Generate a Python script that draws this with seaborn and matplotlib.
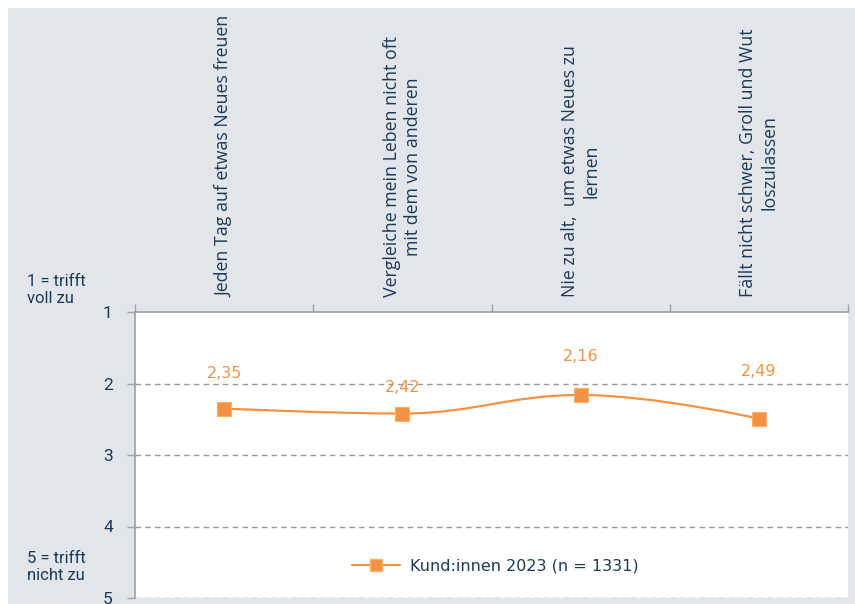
import numpy as np
import pandas as pd
import matplotlib
matplotlib.use("Agg")
import matplotlib.pyplot as plt
from matplotlib.path import Path
from matplotlib.patches import PathPatch, Rectangle
from matplotlib.lines import Line2D
import seaborn as sns

# ---- data ----
categories = [
    "Jeden Tag auf etwas Neues freuen",
    "Vergleiche mein Leben nicht oft\nmit dem von anderen",
    "Nie zu alt,  um etwas Neues zu\nlernen",
    "Fällt nicht schwer, Groll und Wut\nloszulassen",
]
values = [2.35, 2.42, 2.16, 2.49]
value_labels = ["2,35", "2,42", "2,16", "2,49"]
series_name = "Kund:innen 2023 (n = 1331)"
y_ticks = [1, 2, 3, 4, 5]
top_note = "1 = trifft\nvoll zu"
bottom_note = "5 = trifft\nnicht zu"

# ---- style ----
ORANGE = "#f39244"
NAVY = "#1b3a5a"
BG = "#e2e5e9"
GRID = "#9a9a9a"
label_offsets_px = [35, 26, 38, 47]

sns.set_theme(style="white")
plt.rcParams["font.family"] = ["DejaVu Sans"]

fig = plt.figure(figsize=(8.55, 6.04), dpi=100, facecolor="white")
fig.patches.append(Rectangle((8 / 855, 0), 1 - 8 / 855, 1 - 8 / 604,
                             transform=fig.transFigure, facecolor=BG,
                             edgecolor="none", zorder=-10))
ax = fig.add_axes([135 / 855, 6 / 604, (848 - 135) / 855, (598 - 312) / 604])
ax.set_facecolor("white")

df = pd.DataFrame({"x": np.arange(len(values)), "y": values})

# Highcharts-like spline through the points
xs = df["x"].to_numpy(dtype=float)
ys = df["y"].to_numpy(dtype=float)
sm = 1.5
den = sm + 1
n = len(xs)
lc = [(xs[i], ys[i]) for i in range(n)]
rc = [(xs[i], ys[i]) for i in range(n)]
for i in range(1, n - 1):
    lx = (sm * xs[i] + xs[i - 1]) / den
    ly = (sm * ys[i] + ys[i - 1]) / den
    rx = (sm * xs[i] + xs[i + 1]) / den
    ry = (sm * ys[i] + ys[i + 1]) / den
    corr = (ry - ly) * (rx - xs[i]) / (rx - lx) + ys[i] - ry
    ly += corr
    ry += corr
    if ly > ys[i - 1] and ly > ys[i]:
        ly = max(ys[i - 1], ys[i]); ry = 2 * ys[i] - ly
    elif ly < ys[i - 1] and ly < ys[i]:
        ly = min(ys[i - 1], ys[i]); ry = 2 * ys[i] - ly
    if ry > ys[i + 1] and ry > ys[i]:
        ry = max(ys[i + 1], ys[i]); ly = 2 * ys[i] - ry
    elif ry < ys[i + 1] and ry < ys[i]:
        ry = min(ys[i + 1], ys[i]); ly = 2 * ys[i] - ry
    lc[i] = (lx, ly)
    rc[i] = (rx, ry)
verts = [(xs[0], ys[0])]
codes = [Path.MOVETO]
for i in range(1, n):
    verts += [rc[i - 1], lc[i], (xs[i], ys[i])]
    codes += [Path.CURVE4] * 3
ax.add_patch(PathPatch(Path(verts, codes), facecolor="none", edgecolor=ORANGE,
                       lw=1.6, zorder=3, capstyle="round"))

sns.scatterplot(data=df, x="x", y="y", marker="s", s=100, color=ORANGE,
                edgecolor="#ffb060", linewidth=0.8, ax=ax, zorder=4, legend=False)

for xi, yi, lab, off in zip(xs, ys, value_labels, label_offsets_px):
    ax.annotate(lab, (xi, yi), xytext=(0, off * 0.72), textcoords="offset points",
                ha="center", va="center", color=ORANGE, fontsize=11.5,
                family="DejaVu Sans")

ax.set_xlim(-0.5, len(categories) - 0.5)
ax.set_ylim(5, 1)
ax.set_xlabel("")
ax.set_ylabel("")

# grid
for t in y_ticks[1:]:
    ax.axhline(t, color=GRID, lw=1, ls=(0, (4, 3)), zorder=1)

# spines
for s in ["right", "bottom"]:
    ax.spines[s].set_visible(False)
for s in ["left", "top"]:
    ax.spines[s].set_color("#a0a0a0")
    ax.spines[s].set_linewidth(1.2)

ax.set_yticks(y_ticks)
ax.set_yticklabels([str(t) for t in y_ticks], fontsize=12.5, color=NAVY,
                   family="Roboto")
ax.tick_params(axis="y", left=True, length=6, width=1, color="#a0a0a0", pad=10)

ax.xaxis.tick_top()
ax.set_xticks(np.arange(len(categories)))
ax.set_xticklabels(categories, rotation=90, fontsize=12.8, color=NAVY,
                   family="Open Sans", multialignment="center")
ax.tick_params(axis="x", which="major", top=True, bottom=False, length=0, pad=11)
ax.set_xticks(np.arange(len(categories) + 1) - 0.5, minor=True)
ax.tick_params(axis="x", which="minor", top=True, bottom=False, length=6,
               width=1, color="#a0a0a0")

fig.text(27 / 855, 1 - 290 / 604, top_note, ha="left", va="center",
         fontsize=12, color=NAVY, family="Roboto", linespacing=1.1)
fig.text(27 / 855, 1 - 567 / 604, bottom_note, ha="left", va="center",
         fontsize=12, color=NAVY, family="Roboto", linespacing=1.1)

handle = Line2D([], [], color=ORANGE, lw=1.6, marker="s", markersize=8.5,
                markerfacecolor=ORANGE, markeredgecolor="#ffb060")
leg = ax.legend([handle], [series_name], loc="center", bbox_to_anchor=(0.505, 0.112),
                frameon=False, fontsize=11.5, handlelength=3.0, handletextpad=0.6)
for t in leg.get_texts():
    t.set_color(NAVY)

fig.savefig("out.png", dpi=100, facecolor=fig.get_facecolor())
